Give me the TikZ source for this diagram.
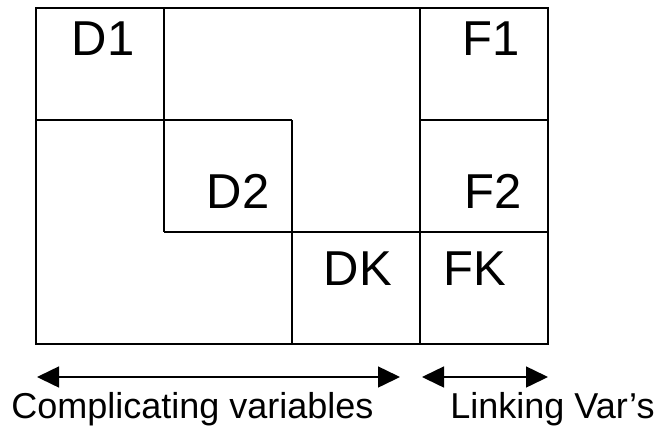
\documentclass[tikz,border=0pt]{standalone}
\usepackage{fontspec}
\setmainfont{Liberation Sans}
\usetikzlibrary{arrows.meta}
\tikzset{
  thinline/.style={line width=1.3pt},
  thickline/.style={line width=2.2pt},
  outerline/.style={line width=2pt},
  blocklabel/.style={anchor=base,inner sep=0pt,font=\fontsize{49}{49}\selectfont},
  axislabel/.style={anchor=base,inner sep=0pt,font=\fontsize{36}{36}\selectfont},
  spanarrow/.style={line width=1.5pt,{Triangle[length=22pt,width=21pt]}-{Triangle[length=22pt,width=21pt]}}
}
\begin{document}
\begin{tikzpicture}[x=1pt,y=-1pt]
\useasboundingbox (0,0) rectangle (660,426);
% inner thin lines
\draw[thinline] (164,8) -- (164,232);
\draw[thinline] (36,120) -- (292,120);
\draw[thinline] (292,120) -- (292,344);
\draw[thinline] (164,232) -- (420,232);
\draw[thinline] (420,8) -- (420,232);
% linking column lines
\draw[thickline] (420,232) -- (420,344);
\draw[thickline] (420,120) -- (548,120);
\draw[thickline] (420,232) -- (548,232);
% outer frame
\draw[outerline] (36,8) rectangle (548,344);
% labels
\node[blocklabel] (d1) at (103,55) {D1};
\node[blocklabel] (d2) at (238,208) {D2};
\node[blocklabel] (dk) at (358,285) {DK};
\node[blocklabel] (f1) at (491,55) {F1};
\node[blocklabel] (f2) at (493,208) {F2};
\node[blocklabel] (fk) at (475,285) {FK};
% span arrows
\coordinate (c1) at (37,377);
\coordinate (c2) at (400,377);
\coordinate (l1) at (422,377);
\coordinate (l2) at (548,377);
\draw[spanarrow] (c1) -- (c2);
\draw[spanarrow] (l1) -- (l2);
\node[axislabel] (cv) at (192.5,418) {Complicating variables};
\node[axislabel] (lv) at (552.5,418) {Linking Var’s};
\end{tikzpicture}
\end{document}
